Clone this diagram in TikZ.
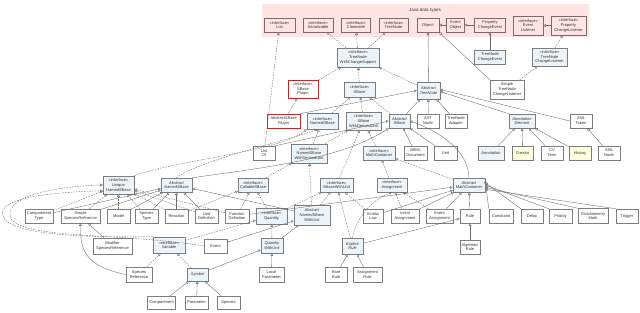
\documentclass[tikz,border=0pt]{standalone}
\usepackage{fontspec}
\setmainfont{Liberation Sans}
\usetikzlibrary{arrows.meta}
\definecolor{ifill}{RGB}{236,244,251}
\definecolor{jfill}{RGB}{255,228,228}
\definecolor{jdraw}{RGB}{125,105,105}
\definecolor{bdraw}{RGB}{125,125,125}
\definecolor{yfill}{RGB}{255,255,221}
\definecolor{rdraw}{RGB}{195,40,40}
\definecolor{edgec}{RGB}{105,105,105}
\newcommand\bx[7]{\node[#1, minimum width=#5pt, minimum height=#6pt] (#2) at (#3,#4) {#7};}
\tikzset{
 cls/.style={draw=bdraw, fill=white, line width=0.45pt, inner sep=0.3pt, align=center, font=\fontsize{4}{4.8}\selectfont, text=black!80},
 intf/.style={cls, fill=ifill},
 abs/.style={cls, fill=ifill, font=\fontsize{4}{4.8}\selectfont\itshape},
 absw/.style={cls, font=\fontsize{4}{4.8}\selectfont\itshape},
 jv/.style={cls, fill=jfill, draw=jdraw},
 plug/.style={cls, draw=rdraw, line width=0.7pt},
 yel/.style={cls, fill=yfill},
 gen/.style={draw=edgec, line width=0.35pt, -{Triangle[open, length=2.6pt, width=2.8pt]}},
 impl/.style={gen, dash pattern=on 1.6pt off 1.1pt},
}
\begin{document}
\begin{tikzpicture}[x=1pt,y=-1pt]
\useasboundingbox (0,0) rectangle (640,313);
\fill[white] (0,0) rectangle (640,313);
% Java data types
\fill[jfill] (262,4) rectangle (589,37);
\node[font=\fontsize{4.5}{5}\selectfont, text=black!80] (jtitle) at (425,10) {Java data types};
\bx{jv}{jList}{279.5}{25}{31}{14}{«interface»\\List}
\bx{jv}{jSer}{318}{25}{30}{14}{«interface»\\Serializable}
\bx{jv}{jClone}{356}{25}{29}{14}{«interface»\\Cloneable}
\bx{jv}{jTree}{393.5}{25}{29}{14}{«interface»\\TreeNode}
\bx{jv}{jObject}{428}{25}{22}{14}{Object}
\bx{jv}{jEvObj}{455.5}{25}{18}{14}{Event\\Object}
\bx{jv}{jPCE}{490}{25}{31}{14}{Property\\ChangeEvent}
\bx{jv}{jEvL}{528}{25.5}{30}{19}{«interface»\\Event\\Listener}
\bx{jv}{jPCL}{568.5}{25.5}{35}{19}{«interface»\\Property\\ChangeListener}
% row 2
\bx{intf}{TWCS}{358}{57.5}{42}{19}{«interface»\\TreeNode\\WithChangeSupport}
\bx{intf}{TNCE}{490}{57}{31}{14}{TreeNode\\ChangeEvent}
\bx{intf}{TNCL}{549.5}{57}{35}{18}{«interface»\\TreeNode\\ChangeListener}
\bx{cls}{STNCL}{507}{89.5}{34}{19}{Simple\\TreeNode\\ChangeListener}
\bx{plug}{SBP}{303}{89}{30}{18}{«interface»\\SBase\\Plugin}
\bx{intf}{SBase}{359.5}{89.5}{31}{15}{«interface»\\SBase}
\bx{abs}{ATN}{428.5}{90.5}{23}{17}{Abstract\\TreeNode}
% row 3
\bx{plug}{ASBP}{283.5}{121}{33}{14}{\itshape AbstractSBase\\\itshape Plugin}
\bx{intf}{NSB}{322.5}{121}{31}{16}{«interface»\\NamedSBase}
\bx{intf}{SBWDU}{363.5}{121}{35}{18}{«interface»\\SBase\\WithDerivedUnit}
\bx{abs}{ASB}{399.5}{121}{21}{14}{Abstract\\SBase}
\bx{cls}{AST}{428}{121}{22}{14}{AST\\Node}
\bx{cls}{TNA}{456}{121}{22}{14}{TreeNode\\Adapter}
\bx{abs}{AE}{522}{121}{26}{14}{Annotation\\Element}
\bx{cls}{XT}{581}{121}{22}{14}{XML\\Token}
% row 4
\bx{cls}{ListOf}{264}{153}{22}{14}{List\\Of}
\bx{intf}{NSBWDU}{309}{153.5}{36}{19}{«interface»\\NamedSBase\\WithDerivedUnit}
\bx{intf}{MC}{379}{153}{32}{14}{«interface»\\MathContainer}
\bx{cls}{SBMLDoc}{415.5}{153}{23}{14}{SBML\\Document}
\bx{cls}{Unit}{445.5}{153}{23}{14}{Unit}
\bx{intf}{Annot}{491}{153}{26}{14}{Annotation}
\bx{yel}{Creator}{522.5}{153}{21}{14}{Creator}
\bx{cls}{CVTerm}{552}{153}{22}{14}{CV\\Term}
\bx{yel}{History}{580}{153}{22}{14}{History}
\bx{cls}{XMLNode}{609}{153}{22}{14}{XML\\Node}
% row 5
\bx{intf}{UNSB}{118.5}{185}{31}{18}{«interface»\\Unique\\NamedSBase}
\bx{abs}{ANSB}{176.5}{185}{31}{14}{Abstract\\NamedSBase}
\bx{intf}{CallSB}{253}{185}{30}{14}{«interface»\\CallableSBase}
\bx{intf}{SBWU}{336.5}{185}{33}{14}{«interface»\\SBaseWithUnit}
\bx{intf}{Assign}{392}{185}{30}{14}{«interface»\\Assignment}
\bx{abs}{AMC}{469}{185}{32}{14}{Abstract\\MathContainer}
% row 6
\bx{cls}{CompType}{39}{216}{28}{14}{Compartment\\Type}
\bx{absw}{SSR}{80.5}{216}{39}{14}{Simple\\SpeciesReference}
\bx{cls}{Model}{118.5}{216}{23}{14}{Model}
\bx{cls}{SpType}{146.5}{216}{23}{14}{Species\\Type}
\bx{cls}{Reaction}{176.5}{216}{23}{14}{Reaction}
\bx{cls}{UnitDef}{206.5}{216}{23}{14}{Unit\\Definition}
\bx{cls}{FuncDef}{237}{216}{24}{14}{Function\\Definition}
\bx{intf}{Quantity}{271.5}{216}{31}{16}{«interface»\\Quantity}
\bx{abs}{ANSBWU}{312}{215}{36}{20}{Abstract\\NamedSBase\\WithUnit}
\bx{cls}{KL}{373}{216}{20}{14}{Kinetic\\Law}
\bx{cls}{IA}{405}{216}{28}{14}{Initial\\Assignment}
\bx{cls}{EA}{439.5}{216}{27}{14}{Event\\Assignment}
\bx{cls}{Rule}{470}{216}{20}{14}{Rule}
\bx{cls}{Constraint}{501}{216}{24}{14}{Constraint}
\bx{cls}{Delay}{532}{216}{22}{14}{Delay}
\bx{cls}{Priority}{560.5}{216}{23}{14}{Priority}
\bx{cls}{SM}{593}{216}{30}{15}{Stoichiometry\\Math}
\bx{cls}{Trigger}{627}{216}{22}{14}{Trigger}
% row 7
\bx{cls}{ModSR}{112.5}{246}{39}{16}{Modifier\\SpeciesReference}
\bx{intf}{Variable}{169}{245}{32}{16}{«interface»\\Variable}
\bx{cls}{Event}{215.5}{246}{23}{14}{Event}
\bx{abs}{QWU}{272}{245.5}{22}{15}{Quantity\\WithUnit}
\bx{abs}{ER}{352.5}{246}{21}{16}{Explicit\\Rule}
\bx{cls}{AlgRule}{470}{247}{20}{14}{Algebraic\\Rule}
% row 8
\bx{cls}{SpRef}{139}{274.5}{26}{15}{Species\\Reference}
\bx{abs}{Symbol}{197.5}{274.5}{21}{13}{Symbol}
\bx{cls}{LP}{271.5}{274.5}{25}{15}{Local\\Parameter}
\bx{cls}{RR}{336}{274.5}{22}{15}{Rate\\Rule}
\bx{cls}{AR}{367.5}{274.5}{29}{15}{Assignment\\Rule}
% row 9
\bx{cls}{Comp}{161.5}{302.5}{28}{13}{Compartment}
\bx{cls}{Param}{196.5}{302.5}{23}{13}{Parameter}
\bx{cls}{Species}{228.5}{302.5}{23}{13}{Species}
% ---------- connectors ----------
% java
\draw[gen] (jEvObj) -- (jObject);
\draw[gen] (jPCE) -- (jEvObj);
\draw[gen] (jPCL) -- (jEvL);
% row 2
\draw[impl] (TWCS) -- (jSer);
\draw[impl] (TWCS) -- (jClone);
\draw[impl] (TWCS) -- (jTree);
\draw[gen] (TNCE) -- (jPCE);
\draw[impl] (TNCL) -- (jPCL);
\draw[impl] (STNCL) -- (TNCL);
\draw[gen] (STNCL.north west) -- (jObject.south east);
\draw[gen] (ATN) -- (jObject);
\draw[impl] (ATN) -- (TWCS);
\draw[impl] (SBase) -- (TWCS);
\draw[impl] (SBP) -- (TWCS);
% row 3
\draw[impl] (ASBP) -- (SBP);
\draw[gen] (ASBP.north east) -- (ATN.west);
\draw[impl] (NSB) -- (SBase);
\draw[impl] (SBWDU) -- (SBase);
\draw[impl] (ASB) -- (SBase);
\draw[gen] (ASB) -- (ATN);
\draw[gen] (AST) -- (ATN);
\draw[gen] (TNA) -- (ATN);
\draw[gen] (AE.north west) -- (ATN.-5);
\draw[gen] (XT.west) -- (ATN.5);
% row 4
\draw[impl] (ListOf) -- (jList);
\draw[gen] (ListOf.north east) -- (ASB.west);
\draw[impl] (NSBWDU) -- (NSB);
\draw[impl] (NSBWDU) -- (SBWDU);
\draw[impl] (MC) -- (SBWDU);
\draw[gen] (SBMLDoc) -- (ASB);
\draw[gen] (Unit) -- (ASB);
\draw[gen] (Annot) -- (AE);
\draw[gen] (Creator) -- (AE);
\draw[gen] (CVTerm) -- (AE);
\draw[gen] (History) -- (AE);
\draw[gen] (XMLNode) -- (XT);
% row 5
\draw[impl] (UNSB.north east) .. controls (175,160) and (280,152) .. (NSB.south west);
\draw[gen] (ANSB.north east) .. controls (260,168) and (340,160) .. (ASB.south west);
\draw[impl] (ANSB.north) .. controls (200,160) and (290,140) .. (NSB.-120);
\draw[impl] (CallSB) -- (NSBWDU);
\draw[impl] (SBWU) -- (SBWDU);
\draw[impl] (Assign) -- (MC);
\draw[gen] (AMC.north) .. controls (468,150) and (440,132) .. (ASB.east);
\draw[impl] (AMC) -- (MC);
% row 6
\draw[gen] (CompType) -- (ANSB);
\draw[impl] (CompType) -- (UNSB);
\draw[gen] (SSR) -- (ANSB);
\draw[impl] (SSR) -- (UNSB);
\draw[gen] (Model) -- (ANSB);
\draw[impl] (Model) -- (UNSB);
\draw[gen] (SpType) -- (ANSB);
\draw[impl] (SpType) -- (UNSB);
\draw[gen] (Reaction) -- (ANSB);
\draw[impl] (Reaction) -- (UNSB);
\draw[impl] (Reaction) -- (CallSB);
\draw[gen] (UnitDef) -- (ANSB);
\draw[impl] (UnitDef) -- (UNSB);
\draw[gen] (FuncDef) -- (AMC);
\draw[impl] (FuncDef) -- (CallSB);
\draw[impl] (FuncDef) -- (UNSB);
\draw[impl] (Quantity) -- (CallSB);
\draw[impl] (Quantity) -- (SBWU);
\draw[gen] (ANSBWU) -- (ANSB);
\draw[impl] (ANSBWU) -- (NSBWDU);
\draw[impl] (ANSBWU) -- (SBWU);
\draw[gen] (KL) -- (AMC);
\draw[impl] (KL) -- (SBWU);
\draw[gen] (IA) -- (AMC);
\draw[impl] (IA) -- (Assign);
\draw[gen] (EA) -- (AMC);
\draw[impl] (EA) -- (Assign);
\draw[gen] (Rule) -- (AMC);
\draw[gen] (Constraint.north west) -- (AMC.15);
\draw[gen] (Delay.north west) -- (AMC.8);
\draw[gen] (Priority.north west) -- (AMC.0);
\draw[gen] (SM.north west) -- (AMC.-8);
\draw[gen] (Trigger.north west) -- (AMC.-15);
% row 7
\draw[gen] (ModSR) -- (SSR);
\draw[impl] (Variable) -- (Quantity);
\draw[gen] (Event) -- (ANSBWU);
\draw[impl] (Event.west) .. controls (120,232) and (12,240) .. (10,215) .. controls (8,195) and (60,186) .. (UNSB.west);
\draw[impl] (Variable.north west) .. controls (60,238) and (-4,232) .. (3,210) .. controls (10,196) and (60,192) .. (UNSB.200);
\draw[gen] (QWU) -- (ANSBWU);
\draw[impl] (QWU) -- (Quantity);
\draw[gen] (ER) -- (Rule);
\draw[impl] (ER) -- (SBWU);
\draw[impl] (ER.north) .. controls (356,218) and (372,200) .. (Assign.south);
\draw[gen] (AlgRule) -- (Rule);
% row 8
\draw[gen] (SpRef.west) .. controls (85,266) and (80,250) .. (SSR.south);
\draw[impl] (SpRef) -- (Variable);
\draw[gen] (Symbol) -- (QWU);
\draw[impl] (Symbol) -- (Variable);
\draw[gen] (LP) -- (QWU);
\draw[gen] (RR) -- (ER);
\draw[gen] (AR) -- (ER);
% row 9
\draw[gen] (Comp) -- (Symbol);
\draw[gen] (Param) -- (Symbol);
\draw[gen] (Species) -- (Symbol);
\end{tikzpicture}
\end{document}
